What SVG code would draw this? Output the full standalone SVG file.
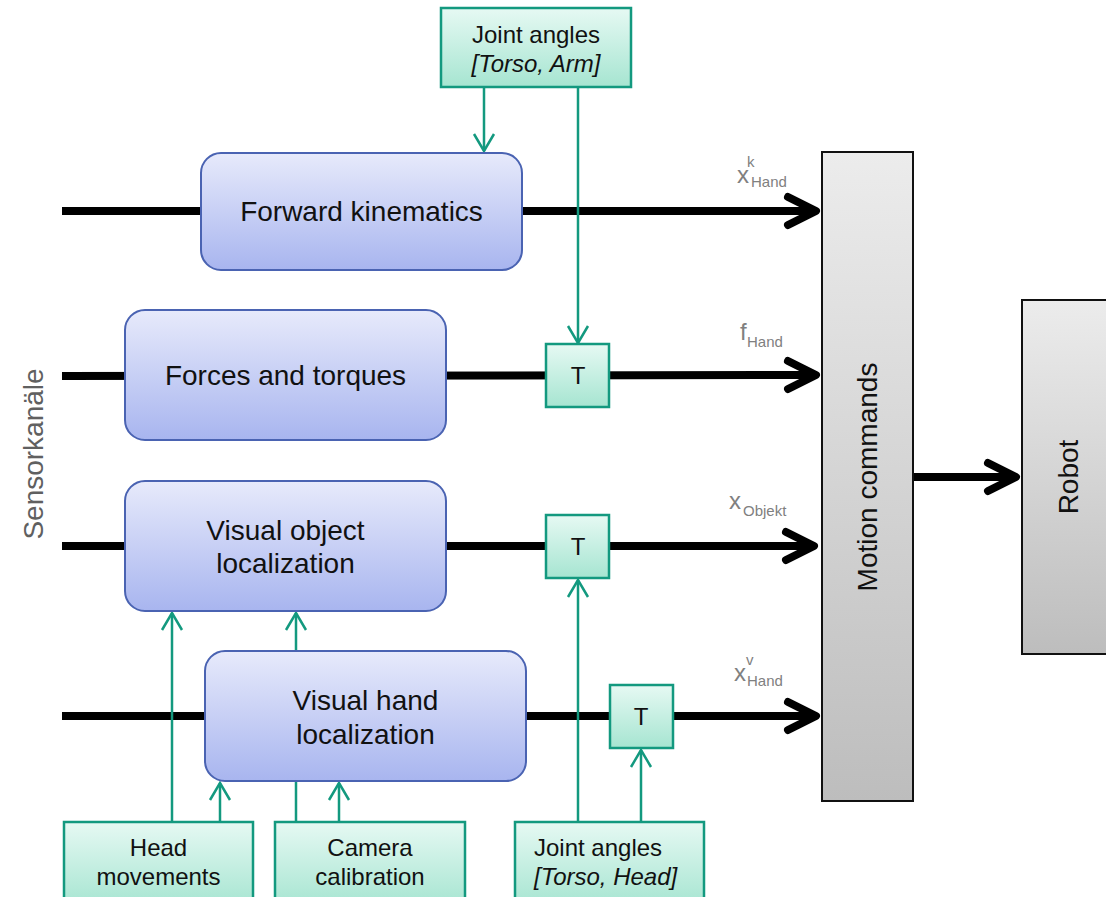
<svg xmlns="http://www.w3.org/2000/svg" width="1106" height="897" viewBox="0 0 1106 897">
<style>
.blue{stroke:#4a63b2;stroke-width:2;fill:url(#gBlue)}
.green{stroke:#13997f;stroke-width:2.5;fill:url(#gGreen)}
.gray{stroke:#111;stroke-width:2;fill:url(#gGray)}
.thick{stroke:#000;stroke-width:8;fill:none}
.gl{stroke:#13997f;stroke-width:2.5;fill:none}
.bt{font-family:"Liberation Sans",Arial,sans-serif;font-size:28px;fill:#111;text-anchor:middle}
.gt{font-family:"Liberation Sans",Arial,sans-serif;font-size:24px;fill:#111;text-anchor:middle}
.gs{font-family:"Liberation Sans",Arial,sans-serif;font-size:24px;fill:#111;text-anchor:start}
.it{font-style:italic}
.lab{font-family:"Liberation Sans",Arial,sans-serif;fill:#808080}
.big{font-size:24px}
.small{font-size:15px}
.side{font-family:"Liberation Sans",Arial,sans-serif;font-size:28px;text-anchor:middle}
</style>
<defs>
<linearGradient id="gBlue" x1="0" y1="0" x2="0" y2="1"><stop offset="0" stop-color="#e7eafb"/><stop offset="1" stop-color="#a8b5ef"/></linearGradient>
<linearGradient id="gGreen" x1="0" y1="0" x2="0" y2="1"><stop offset="0" stop-color="#e6f9f3"/><stop offset="1" stop-color="#a6e5d1"/></linearGradient>
<linearGradient id="gGray" x1="0" y1="0" x2="0" y2="1"><stop offset="0" stop-color="#ececec"/><stop offset="1" stop-color="#bdbdbd"/></linearGradient>
<marker id="mThick" markerUnits="userSpaceOnUse" orient="auto" viewBox="-40 -20 50 40" markerWidth="50" markerHeight="40" refX="0" refY="0" overflow="visible">
<path d="M -28 -14 L 0 0 L -28 14" fill="none" stroke="#000" stroke-width="8" stroke-linecap="round" stroke-linejoin="round"/>
</marker>
<marker id="mGreen" markerUnits="userSpaceOnUse" orient="auto" viewBox="-20 -12 24 24" markerWidth="24" markerHeight="24" refX="0" refY="0" overflow="visible">
<path d="M -17 -10 L 0 0 L -17 10" fill="none" stroke="#13997f" stroke-width="2.5"/>
</marker>
</defs>
<g id="connectors">
<line class="thick" x1="62" y1="211" x2="816" y2="211" marker-end="url(#mThick)"/>
<line class="thick" x1="62" y1="376" x2="816" y2="375" marker-end="url(#mThick)"/>
<line class="thick" x1="62" y1="546" x2="814" y2="546" marker-end="url(#mThick)"/>
<line class="thick" x1="62" y1="716" x2="816" y2="716" marker-end="url(#mThick)"/>
<line class="thick" x1="913" y1="477" x2="1016" y2="477" marker-end="url(#mThick)"/>
<line class="gl" x1="484" y1="87" x2="484" y2="151" marker-end="url(#mGreen)"/>
<line class="gl" x1="578" y1="87" x2="578" y2="343" marker-end="url(#mGreen)"/>
<line class="gl" x1="172" y1="822" x2="172" y2="613" marker-end="url(#mGreen)"/>
<line class="gl" x1="220" y1="822" x2="220" y2="783" marker-end="url(#mGreen)"/>
<line class="gl" x1="296" y1="822" x2="296" y2="613" marker-end="url(#mGreen)"/>
<line class="gl" x1="339" y1="822" x2="339" y2="783" marker-end="url(#mGreen)"/>
<line class="gl" x1="578" y1="822" x2="578" y2="580" marker-end="url(#mGreen)"/>
<line class="gl" x1="641" y1="822" x2="641" y2="750" marker-end="url(#mGreen)"/>
</g>
<g id="forward-kinematics">
<rect class="blue" x="201" y="153" width="321" height="117" rx="20"/>
<text class="bt" x="361.5" y="221">Forward kinematics</text>
</g>
<g id="forces-torques">
<rect class="blue" x="125" y="310" width="321" height="130" rx="20"/>
<text class="bt" x="285.5" y="385">Forces and torques</text>
</g>
<g id="visual-object">
<rect class="blue" x="125" y="481" width="321" height="130" rx="20"/>
<text class="bt" x="285.5" y="540">Visual object</text>
<text class="bt" x="285.5" y="573">localization</text>
</g>
<g id="visual-hand">
<rect class="blue" x="205" y="651" width="321" height="130" rx="20"/>
<text class="bt" x="365.5" y="710">Visual hand</text>
<text class="bt" x="365.5" y="744">localization</text>
</g>
<g id="joint-angles-top">
<rect class="green" x="441" y="8" width="190" height="79"/>
<text class="gt" x="536" y="43">Joint angles</text>
<text class="gt it" x="536" y="72">[Torso, Arm]</text>
</g>
<g id="t1">
<rect class="green" x="546" y="344" width="63" height="63"/>
<text class="gt" x="578" y="384">T</text>
</g>
<g id="t2">
<rect class="green" x="546" y="515" width="63" height="63"/>
<text class="gt" x="578" y="555">T</text>
</g>
<g id="t3">
<rect class="green" x="610" y="685" width="63" height="63"/>
<text class="gt" x="641" y="725">T</text>
</g>
<g id="head-movements">
<rect class="green" x="64" y="822" width="189" height="85"/>
<text class="gt" x="158.5" y="856">Head</text>
<text class="gt" x="158.5" y="885">movements</text>
</g>
<g id="camera-calibration">
<rect class="green" x="275" y="822" width="190" height="85"/>
<text class="gt" x="370" y="856">Camera</text>
<text class="gt" x="370" y="885">calibration</text>
</g>
<g id="joint-angles-bottom">
<rect class="green" x="515" y="822" width="189" height="85"/>
<text class="gs" x="534" y="856">Joint angles</text>
<text class="gs it" x="534" y="885">[Torso, Head]</text>
</g>
<g id="motion-commands">
<rect class="gray" x="822" y="152" width="91" height="649"/>
<text class="side" fill="#111" transform="translate(877,477) rotate(-90)">Motion commands</text>
</g>
<g id="robot">
<rect class="gray" x="1022" y="300" width="90" height="354"/>
<text class="side" fill="#111" transform="translate(1078,477) rotate(-90)">Robot</text>
</g>
<g id="labels">
<text class="side" fill="#606060" transform="translate(43,454) rotate(-90)">Sensorkanäle</text>
<text class="lab big" x="737" y="183">x</text>
<text class="lab small" x="747" y="167">k</text>
<text class="lab small" x="751" y="187">Hand</text>
<text class="lab big" x="740" y="340">f</text>
<text class="lab small" x="747" y="347">Hand</text>
<text class="lab big" x="729" y="509">x</text>
<text class="lab small" x="743" y="516">Objekt</text>
<text class="lab big" x="734" y="681">x</text>
<text class="lab small" x="746" y="665">v</text>
<text class="lab small" x="747" y="686">Hand</text>
</g>
</svg>
